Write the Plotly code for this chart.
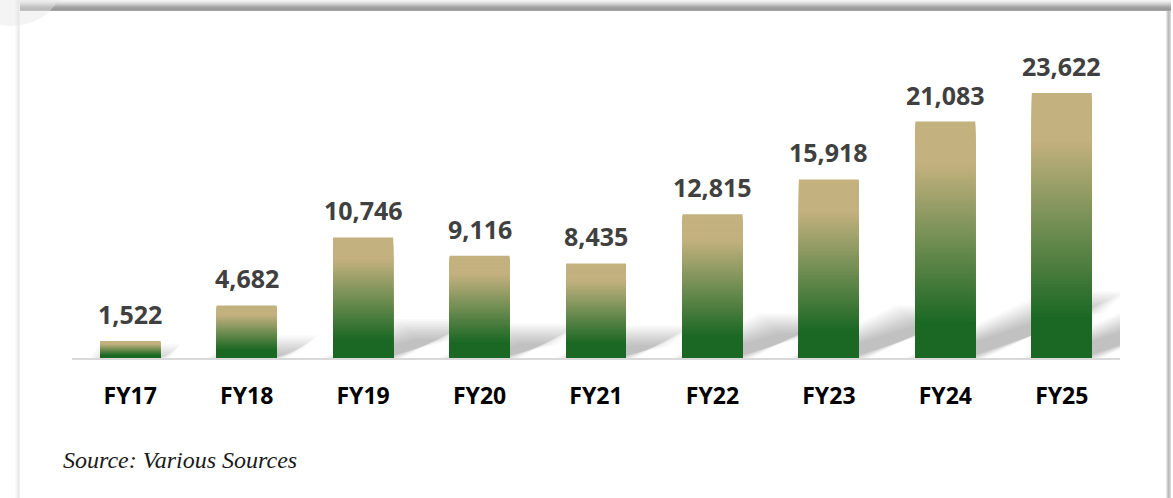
import plotly.graph_objects as go

# ---- data ----
categories = ["FY17", "FY18", "FY19", "FY20", "FY21", "FY22", "FY23", "FY24", "FY25"]
values = [1522, 4682, 10746, 9116, 8435, 12815, 15918, 21083, 23622]
source_text = "Source: Various Sources"

# ---- page geometry (px) ----
W, H = 1173, 498
ML, MR, MT, MB = 72, 53, 44, 140
PW, PH = W - ML - MR, H - MT - MB
Y_MAX = 28000
BAR_W = 0.515
positions = list(range(len(categories)))

TAN = (195, 177, 127)
GREEN = (27, 104, 36)


def grad_color(t):
    """Colour of the bar fill at fraction t measured from the bar top."""
    if t <= 0.18:
        c = TAN
    elif t >= 0.85:
        c = GREEN
    else:
        f = (t - 0.18) / (0.85 - 0.18)
        c = tuple(TAN[i] + (GREEN[i] - TAN[i]) * f for i in range(3))
    return "rgb(%d,%d,%d)" % tuple(round(v) for v in c)


def px_x(px):
    return (px - ML) / PW


def px_y(py):
    return (H - MB - py) / PH


fig = go.Figure()

# Gradient bars: overlaid bars of decreasing height, each showing one colour band
N = 90
for j in range(N):
    frac = 1 - j / N
    fig.add_trace(go.Bar(
        x=positions,
        y=[v * frac for v in values],
        width=BAR_W,
        marker=dict(color=grad_color((j + 0.5) / N), line=dict(width=0)),
        hoverinfo="skip",
        showlegend=False,
    ))

shapes = []

# Soft perspective shadows cast to the upper right of each bar
cat_px = PW / len(categories)
unit_px = PH / Y_MAX
for i, v in zip(positions, values):
    h_px = v * unit_px
    shift = 0.6 * h_px / cat_px
    top = 0.24 * v
    for d in range(-10, 12, 2):
        dx = d / cat_px
        dy = d / unit_px
        x0 = i - BAR_W / 2 - dx
        x1 = i + BAR_W / 2 + dx
        if x1 <= x0:
            continue
        t = max(top + dy, 0)
        path = "M %f,0 L %f,0 L %f,%f L %f,%f Z" % (
            x0, x1, x1 + shift, t, x0 + shift, t)
        shapes.append(dict(type="path", xref="x", yref="y", path=path,
                           fillcolor="rgba(0,0,0,0.022)", line=dict(width=0),
                           layer="below"))

# Card frame: dark band along the top edge
band = ["#f2f2f2", "#ebebeb", "#e2e2e2", "#d6d6d6", "#c9c9c9", "#bbbbbb",
        "#adadad", "#a2a2a2", "#9c9c9c", "#999999", "#a4a4a4"]
for k, col in enumerate(band):
    shapes.append(dict(type="rect", xref="paper", yref="paper",
                       x0=px_x(20), x1=px_x(1171), y0=px_y(k + 1), y1=px_y(k),
                       fillcolor=col, line=dict(width=0), layer="below"))
# right edge
for k, col in enumerate(["#e6e6e6", "#cfcfcf", "#bdbdbd", "#c4c4c4", "#dadada"]):
    shapes.append(dict(type="rect", xref="paper", yref="paper",
                       x0=px_x(1166 + k), x1=px_x(1167 + k), y0=px_y(H), y1=px_y(11),
                       fillcolor=col, line=dict(width=0), layer="below"))
# faint left edge
for k, col in enumerate(["#fafafa", "#f5f5f5", "#efefef", "#e9e9e9", "#f0f0f0"]):
    shapes.append(dict(type="rect", xref="paper", yref="paper",
                       x0=px_x(15 + k), x1=px_x(16 + k), y0=px_y(H), y1=px_y(0),
                       fillcolor=col, line=dict(width=0), layer="below"))
# light smudge at the top-left corner
shapes.append(dict(type="circle", xref="paper", yref="paper",
                   x0=px_x(-40), x1=px_x(62), y0=px_y(26), y1=px_y(-60),
                   fillcolor="rgba(230,230,230,0.45)", line=dict(width=0),
                   layer="below"))

annotations = []
for i, v in zip(positions, values):
    annotations.append(dict(
        x=i, y=v, xref="x", yref="y", text=f"{v:,}", showarrow=False,
        yanchor="bottom", yshift=8,
        font=dict(family="Open Sans", size=25, color="#404040", weight="bold"),
    ))
annotations.append(dict(
    x=px_x(61), y=px_y(460), xref="paper", yref="paper", text=source_text,
    showarrow=False, xanchor="left", yanchor="middle",
    font=dict(family="Liberation Serif", size=24, color="#1a1a1a", style="italic"),
))

fig.update_layout(
    width=W, height=H,
    margin=dict(l=ML, r=MR, t=MT, b=MB),
    paper_bgcolor="white", plot_bgcolor="white",
    barmode="overlay",
    showlegend=False,
    shapes=shapes,
    annotations=annotations,
    xaxis=dict(
        range=[-0.5, len(categories) - 0.5],
        tickvals=positions, ticktext=categories,
        showgrid=False, zeroline=False,
        showline=True, linecolor="#d9d9d9", linewidth=2,
        ticks="", ticklabelstandoff=16,
        tickfont=dict(family="Open Sans", size=23, color="#000000", weight="bold"),
        fixedrange=True,
    ),
    yaxis=dict(range=[0, Y_MAX], visible=False, fixedrange=True),
)

fig.write_html("out.html")
